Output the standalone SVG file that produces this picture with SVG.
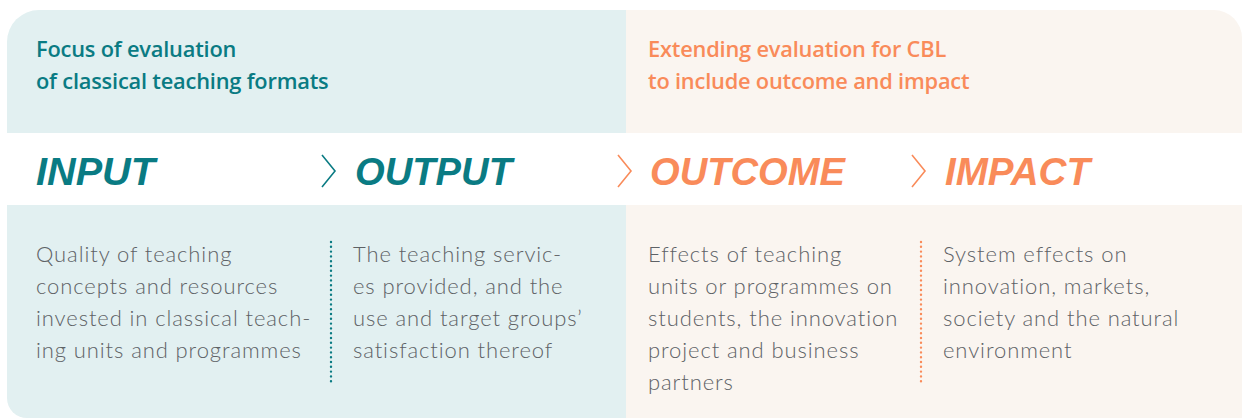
<svg xmlns="http://www.w3.org/2000/svg" width="1242" height="418" viewBox="0 0 1242 418">
<style>
.head{font-family:"Open Sans","Liberation Sans",sans-serif;font-weight:600;font-size:21.8px;letter-spacing:-0.2px}
.big{font-family:"Liberation Sans",Arial,sans-serif;font-weight:bold;font-style:italic;font-size:39px}
.body{font-family:Lato,"Liberation Sans",sans-serif;font-weight:300;font-size:22px;letter-spacing:0.9px;fill:#5e6266}
.teal{fill:#0a7b83}
.orange{fill:#f98b5a}
.chev{fill:none;stroke-width:1.6}
.dots{fill:none;stroke-width:2.4;stroke-linecap:round;stroke-dasharray:0 4.8}
</style>
<rect width="1242" height="418" fill="#ffffff"/>
<g id="panel-left">
<path d="M7 42 A32 32 0 0 1 39 10 H626 V133 H7 Z" fill="#e2f0f1"/>
<path d="M7 205 H626 V418 H27 A20 20 0 0 1 7 398 Z" fill="#e2f0f1"/>
<text class="head teal" x="36" y="57">Focus of evaluation</text>
<text class="head teal" x="36" y="89">of classical teaching formats</text>
</g>
<g id="panel-right">
<path d="M626 10 H1214 A28 28 0 0 1 1242 38 V133 H626 Z" fill="#faf5f0"/>
<rect x="626" y="205" width="616" height="213" fill="#faf5f0"/>
<text class="head orange" x="648" y="57">Extending evaluation for CBL</text>
<text class="head orange" x="648" y="89">to include outcome and impact</text>
</g>
<g id="node-input">
<text class="big teal" x="36" y="185" textLength="119" lengthAdjust="spacingAndGlyphs">INPUT</text>
<text class="body" x="36" y="262">Quality of teaching</text>
<text class="body" x="36" y="294">concepts and resources</text>
<text class="body" x="36" y="326">invested in classical teach-</text>
<text class="body" x="36" y="358">ing units and programmes</text>
</g>
<g id="node-output">
<text class="big teal" x="355" y="185" textLength="157" lengthAdjust="spacingAndGlyphs">OUTPUT</text>
<text class="body" x="353" y="262">The teaching servic-</text>
<text class="body" x="353" y="294">es provided, and the</text>
<text class="body" x="353" y="326">use and target groups’</text>
<text class="body" x="353" y="358">satisfaction thereof</text>
</g>
<g id="node-outcome">
<text class="big orange" x="650" y="185" textLength="195" lengthAdjust="spacingAndGlyphs">OUTCOME</text>
<text class="body" x="648" y="262">Effects of teaching</text>
<text class="body" x="648" y="294">units or programmes on</text>
<text class="body" x="648" y="326">students, the innovation</text>
<text class="body" x="648" y="358">project and business</text>
<text class="body" x="648" y="390">partners</text>
</g>
<g id="node-impact">
<text class="big orange" x="945" y="185" textLength="145" lengthAdjust="spacingAndGlyphs">IMPACT</text>
<text class="body" x="943" y="262">System effects on</text>
<text class="body" x="943" y="294">innovation, markets,</text>
<text class="body" x="943" y="326">society and the natural</text>
<text class="body" x="943" y="358">environment</text>
</g>
<g id="connectors">
<path class="chev" stroke="#0a7b83" d="M322 155 L335 171 L322 187"/>
<path class="chev" stroke="#f98b5a" d="M618 155 L631 171 L618 187"/>
<path class="chev" stroke="#f98b5a" d="M912 155 L925 171 L912 187"/>
<path class="dots" stroke="#0a7b83" d="M331 242 V386"/>
<path class="dots" stroke="#f98b5a" d="M921 242 V386"/>
</g>
</svg>
